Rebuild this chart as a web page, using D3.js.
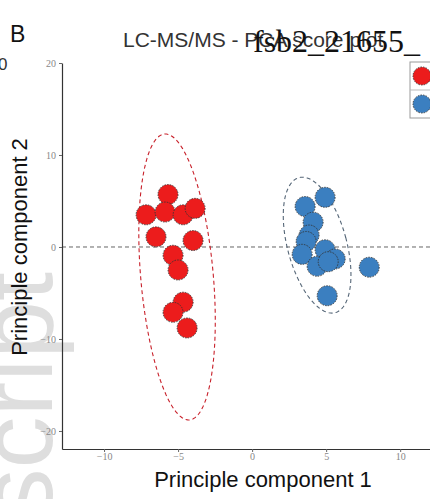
<!DOCTYPE html>
<html><head><meta charset="utf-8">
<script src="https://cdn.jsdelivr.net/npm/d3@7"></script>
<style>
html,body{margin:0;padding:0;background:#fff;}
svg{display:block;}
</style></head>
<body>
<script>
// ---- data ----
const groups = ["Group 1", "Group 2"];
const redX = [-5.68, -7.16, -5.88, -4.66, -3.85, -6.49, -3.99, -5.34, -5.0, -4.66, -5.34, -4.39];
const redY = [5.7, 3.5, 3.8, 3.5, 4.2, 1.1, 0.7, -0.9, -2.5, -6.0, -7.1, -8.8];
const blueX = [4.93, 3.58, 4.12, 3.85, 3.65, 3.38, 4.93, 5.61, 4.39, 5.14, 7.91, 5.07];
const blueY = [5.4, 4.4, 2.7, 1.3, 0.6, -0.8, -0.3, -1.3, -2.1, -1.6, -2.2, -5.3];
// ellipses: center, semi-axes (data units), tilt (deg)
const ellCx = [-5.07, 4.39];
const ellCy = [-3.26, 0.2];
const ellRx = [2.45, 2.0];
const ellRy = [15.6, 7.6];
const ellAngle = [-5, -15];
const xTicks = [-10, -5, 0, 5, 10];
const yTicks = [20, 10, 0, -10, -20];
const colors = ["#ec1c1c", "#3b7fc0"];

const W = 430, H = 499;
const svg = d3.select("body").append("svg").attr("width", W).attr("height", H)
  .style("font-family", "Liberation Sans, Arial, sans-serif");

const x = d3.scaleLinear().domain([-12.84, 13.5]).range([62, 452]);
const y = d3.scaleLinear().domain([-21.96, 20]).range([449, 63]);

// watermark background
svg.append("text")
  .attr("transform", "translate(52,272) rotate(-90)")
  .attr("text-anchor", "end")
  .attr("font-size", 104)
  .attr("fill", "#dedede")
  .text("script");

// panel letter & neighbour fragment
svg.append("text").attr("x", 10).attr("y", 42).attr("font-size", 23).attr("fill", "#111").text("B");
svg.append("text").attr("x", -2).attr("y", 70).attr("font-size", 17).attr("fill", "#333").text("0");

// title
svg.append("text").attr("x", 123).attr("y", 47).attr("font-size", 21).attr("fill", "#333")
  .text("LC-MS/MS - PCA score plot");
svg.append("text").attr("x", 253).attr("y", 52).attr("font-size", 32)
  .attr("font-family", "Liberation Serif, Times New Roman, serif").attr("fill", "#111")
  .text("fsb2_21655_");

// zero line
svg.append("line").attr("x1", x(-12.84)).attr("x2", W).attr("y1", y(0)).attr("y2", y(0))
  .attr("stroke", "#666").attr("stroke-dasharray", "4,3").attr("stroke-width", 1);

// axes
const ax = svg.append("g").attr("transform", `translate(0,${y(-21.96)})`)
  .call(d3.axisBottom(x).tickValues(xTicks).tickSize(3).tickSizeOuter(0));
const ay = svg.append("g").attr("transform", `translate(${x(-12.84)},0)`)
  .call(d3.axisLeft(y).tickValues(yTicks).tickSize(3).tickSizeOuter(0));
[ax, ay].forEach(g => {
  g.select(".domain").attr("stroke", "#333").attr("stroke-width", 1.2);
  g.selectAll(".tick line").attr("stroke", "#666");
  g.selectAll(".tick text").attr("fill", "#888").attr("font-size", 10)
    .attr("font-family", "Liberation Serif, serif");
});
ax.selectAll(".tick text").attr("dy", "0.5em");

// ellipses
function ellipsePath(i) {
  const cx = x(ellCx[i]), cy = y(ellCy[i]);
  const rx = x(ellCx[i] + ellRx[i]) - cx, ry = y(ellCy[i]) - y(ellCy[i] + ellRy[i]);
  const a = ellAngle[i] * Math.PI / 180;
  const pts = d3.range(0, 361, 3).map(t => {
    const tt = t * Math.PI / 180;
    const ex = rx * Math.cos(tt), ey = ry * Math.sin(tt);
    return [cx + ex * Math.cos(a) - ey * Math.sin(a), cy + ex * Math.sin(a) + ey * Math.cos(a)];
  });
  return d3.line()(pts);
}
svg.append("path").attr("d", ellipsePath(0)).attr("fill", "none")
  .attr("stroke", "#c8202a").attr("stroke-dasharray", "4,3").attr("stroke-width", 1.1);
svg.append("path").attr("d", ellipsePath(1)).attr("fill", "none")
  .attr("stroke", "#556677").attr("stroke-dasharray", "4,3").attr("stroke-width", 1.1);

// points
const series = [[redX, redY], [blueX, blueY]];
series.forEach(([xs, ys], gi) => {
  svg.append("g").selectAll("circle").data(xs.map((v, i) => [v, ys[i]])).join("circle")
    .attr("cx", d => x(d[0])).attr("cy", d => y(d[1])).attr("r", 10)
    .attr("fill", colors[gi]).attr("stroke", "#333").attr("stroke-width", 0.9)
    .attr("stroke-dasharray", "1.5,1.2");
});

// axis labels
svg.append("text").attr("x", 263).attr("y", 487).attr("text-anchor", "middle")
  .attr("font-size", 22).attr("fill", "#111").text("Principle component 1");
svg.append("text").attr("transform", `translate(27,${y(0)}) rotate(-90)`).attr("text-anchor", "middle")
  .attr("font-size", 22).attr("fill", "#111").text("Principle component 2");

// legend (cropped at right edge)
const lg = svg.append("g");
lg.append("rect").attr("x", 410).attr("y", 62).attr("width", 40).attr("height", 56)
  .attr("fill", "#fff").attr("stroke", "#999");
lg.append("line").attr("x1", 410).attr("x2", 450).attr("y1", 90).attr("y2", 90).attr("stroke", "#bbb");
lg.selectAll("circle").data(groups).join("circle")
  .attr("cx", 422).attr("cy", (d, i) => 76 + i * 28).attr("r", 9)
  .attr("fill", (d, i) => colors[i]).attr("stroke", "#333").attr("stroke-width", 0.9)
  .attr("stroke-dasharray", "1.5,1.2");
</script>
</body></html>
